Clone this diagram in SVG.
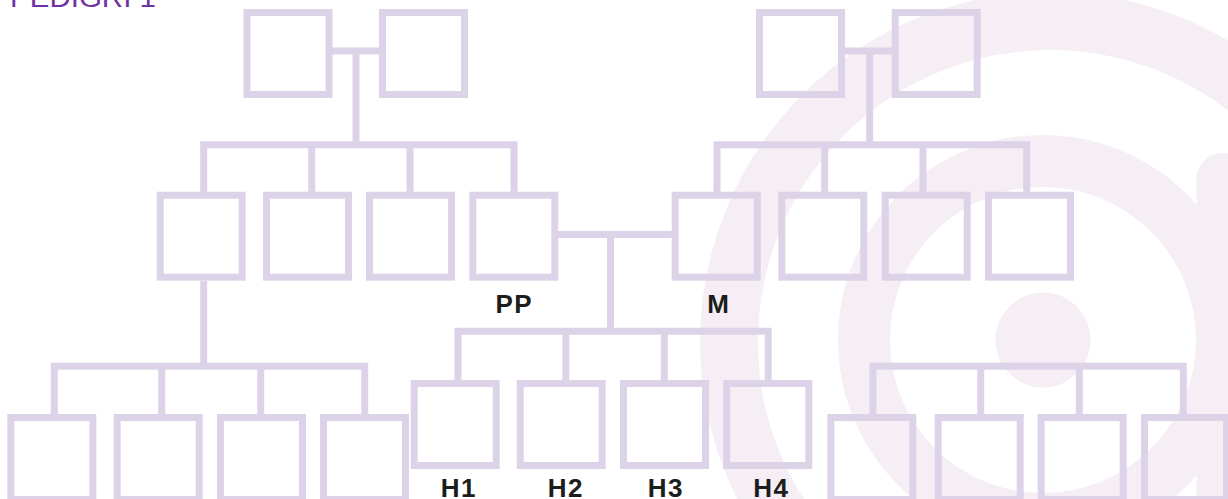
<svg xmlns="http://www.w3.org/2000/svg" width="1228" height="499" viewBox="0 0 1228 499">
<style>
.bg{fill:#f5eef5}
.bgring{fill:none;stroke:#f5eef5}
.box{fill:none;stroke:#dcd3e8;stroke-width:7}
.link{fill:none;stroke:#dcd3e8;stroke-width:7;stroke-linejoin:miter;stroke-linecap:butt}
.lbl{font-family:"Liberation Sans",Arial,sans-serif;font-weight:bold;font-size:26px;letter-spacing:1.5px;fill:#1d1d1b;text-anchor:middle}
.title{font-family:"Liberation Sans",Arial,sans-serif;font-size:28px;fill:#6f32a3}
</style>
<rect width="1228" height="499" fill="#ffffff"/>
<g id="background">
<circle class="bgring" cx="1050" cy="342" r="321" stroke-width="58"/>
<circle class="bgring" cx="1043" cy="340" r="179" stroke-width="52"/>
<circle class="bg" cx="1222.7" cy="179" r="26"/>
<rect class="bg" x="1196.7" y="179" width="52" height="330"/>
<circle class="bg" cx="1043" cy="340" r="47.5"/>
</g>
<text class="title" x="10" y="6.5" textLength="146" lengthAdjust="spacingAndGlyphs">PEDIGRI 1</text>
<g id="connectors">
<path class="link" d="M332,51 H379 M356,51 V144.7 M203.7,192 V144.7 H514 V192 M311.7,144.7 V192 M410,144.7 V192"/>
<path class="link" d="M845,51 H892 M869.7,51 V144.7 M717,192 V144.7 H1026.7 V192 M824.7,144.7 V192 M923,144.7 V192"/>
<path class="link" d="M558,234.5 H672 M610.5,234.5 V331.3 M458,380 V331.3 H768.2 V380 M565.8,331.3 V380 M664.3,331.3 V380"/>
<path class="link" d="M203.7,281 V366.3 M54.3,414 V366.3 H364.7 V414 M161.7,366.3 V414 M260.7,366.3 V414"/>
<path class="link" d="M873,414 V366.3 H1183.3 V414 M980.7,366.3 V414 M1079.3,366.3 V414"/>
</g>
<g id="gp1"><rect class="box" x="247" y="12.5" width="82" height="82"/></g>
<g id="gp2"><rect class="box" x="382.5" y="12.5" width="82" height="82"/></g>
<g id="gp3"><rect class="box" x="759.5" y="12.5" width="82" height="82"/></g>
<g id="gp4"><rect class="box" x="895.2" y="12.5" width="82" height="82"/></g>
<g id="p1"><rect class="box" x="160.2" y="195.2" width="82" height="82"/></g>
<g id="p2"><rect class="box" x="266.5" y="195.2" width="82" height="82"/></g>
<g id="p3"><rect class="box" x="369.5" y="195.2" width="82" height="82"/></g>
<g id="pp"><rect class="box" x="472.8" y="195.2" width="82" height="82"/><text class="lbl" x="514.3" y="313.3">PP</text></g>
<g id="m"><rect class="box" x="675.2" y="195.2" width="82" height="82"/><text class="lbl" x="718.8" y="313.3">M</text></g>
<g id="p6"><rect class="box" x="781.8" y="195.2" width="82" height="82"/></g>
<g id="p7"><rect class="box" x="885.2" y="195.2" width="82" height="82"/></g>
<g id="p8"><rect class="box" x="988.5" y="195.2" width="82" height="82"/></g>
<g id="h1"><rect class="box" x="414.2" y="383.5" width="82" height="82"/><text class="lbl" x="458.8" y="496.5">H1</text></g>
<g id="h2"><rect class="box" x="520.2" y="383.5" width="82" height="82"/><text class="lbl" x="565.8" y="496.5">H2</text></g>
<g id="h3"><rect class="box" x="623.5" y="383.5" width="82" height="82"/><text class="lbl" x="665.8" y="496.5">H3</text></g>
<g id="h4"><rect class="box" x="726.8" y="383.5" width="82" height="82"/><text class="lbl" x="771.3" y="496.5">H4</text></g>
<g id="c1"><rect class="box" x="10.8" y="417.5" width="82" height="82"/></g>
<g id="c2"><rect class="box" x="117.2" y="417.5" width="82" height="82"/></g>
<g id="c3"><rect class="box" x="220.5" y="417.5" width="82" height="82"/></g>
<g id="c4"><rect class="box" x="323.5" y="417.5" width="82" height="82"/></g>
<g id="c5"><rect class="box" x="830.8" y="417.5" width="82" height="82"/></g>
<g id="c6"><rect class="box" x="938.2" y="417.5" width="82" height="82"/></g>
<g id="c7"><rect class="box" x="1041.2" y="417.5" width="82" height="82"/></g>
<g id="c8"><rect class="box" x="1144.5" y="417.5" width="82" height="82"/></g>
</svg>
